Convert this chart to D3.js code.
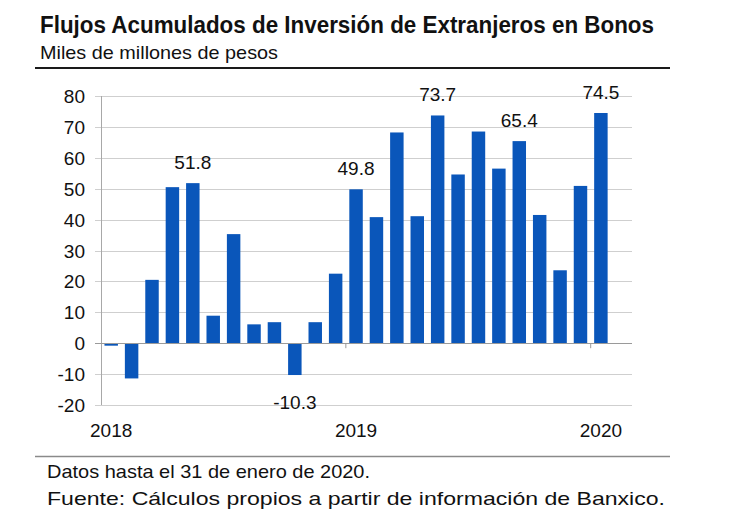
<!DOCTYPE html>
<html lang="es">
<head>
    <meta charset="UTF-8">
    <script src="https://d3js.org/d3.v7.min.js"></script>
    <title>Flujos Acumulados</title>
    <style>
        body { margin: 0; background: #fff; }
        text { font-family: "Liberation Sans", Arial, sans-serif; fill: #111; }
        .grid line { stroke: #cfcfcf; stroke-width: 1px; }
    </style>
</head>
<body>
    <div id="chart"></div>
<script>
    // monthly data, Jan 2018 - Jan 2020 (last slot left empty)
    var months = ["2018-01","2018-02","2018-03","2018-04","2018-05","2018-06","2018-07","2018-08","2018-09","2018-10","2018-11","2018-12",
                  "2019-01","2019-02","2019-03","2019-04","2019-05","2019-06","2019-07","2019-08","2019-09","2019-10","2019-11","2019-12",
                  "2020-01","2020-02"];
    var values = [-0.8, -11.4, 20.5, 50.5, 51.8, 8.9, 35.3, 6.1, 6.8, -10.3, 6.8, 22.5,
                  49.8, 40.8, 68.2, 41.1, 73.7, 54.6, 68.5, 56.5, 65.4, 41.5, 23.6, 50.9,
                  74.5, null];
    var labelled = ["2018-05", "2018-10", "2019-01", "2019-05", "2019-09", "2020-01"];
    var yearLabels = [["2018-01", "2018"], ["2019-01", "2019"], ["2020-01", "2020"]];
    var yTicks = [-20, -10, 0, 10, 20, 30, 40, 50, 60, 70, 80];

    var W = 745, H = 520;
    var svg = d3.select("#chart").append("svg").attr("width", W).attr("height", H);

    // titles
    svg.append("text").attr("x", 40).attr("y", 33)
        .attr("font-size", 23).attr("font-weight", "bold")
        .attr("textLength", 614).attr("lengthAdjust", "spacingAndGlyphs")
        .text("Flujos Acumulados de Inversión de Extranjeros en Bonos");
    svg.append("text").attr("x", 40).attr("y", 59)
        .attr("font-size", 19)
        .attr("textLength", 238).attr("lengthAdjust", "spacingAndGlyphs")
        .text("Miles de millones de pesos");
    svg.append("line").attr("x1", 35).attr("x2", 670).attr("y1", 68).attr("y2", 68)
        .attr("stroke", "#1a1a1a").attr("stroke-width", 2);

    // scales
    var x = d3.scaleBand().domain(months).range([101, 631.5]).paddingInner(0.34).paddingOuter(0.17);
    var y = d3.scaleLinear().domain([-20, 80]).range([405, 96]);

    // grid
    svg.append("g").attr("class", "grid")
        .selectAll("line").data(yTicks).join("line")
        .attr("x1", 95).attr("x2", 632)
        .attr("y1", function(d){ return Math.round(y(d)) + 0.5; })
        .attr("y2", function(d){ return Math.round(y(d)) + 0.5; });

    // y axis
    svg.append("line").attr("x1", 101.5).attr("x2", 101.5).attr("y1", y(80)).attr("y2", y(-20))
        .attr("stroke", "#a8a8a8");
    svg.append("g").selectAll("text").data(yTicks).join("text")
        .attr("x", 85).attr("y", function(d){ return y(d) + 7; })
        .attr("text-anchor", "end").attr("font-size", 19)
        .text(function(d){ return d; });

    // bars
    svg.append("g").selectAll("rect").data(months.filter(function(m, i){ return values[i] !== null; })).join("rect")
        .attr("x", function(d){ return x(d); })
        .attr("width", x.bandwidth())
        .attr("y", function(d){ var v = values[months.indexOf(d)]; return y(Math.max(0, v)); })
        .attr("height", function(d){ var v = values[months.indexOf(d)]; return Math.abs(y(v) - y(0)); })
        .attr("fill", "#0a56ba");

    // zero line and year ticks
    svg.append("line").attr("x1", 95).attr("x2", 632).attr("y1", Math.round(y(0)) + 0.5).attr("y2", Math.round(y(0)) + 0.5)
        .attr("stroke", "#9a9a9a");
    svg.append("g").selectAll("line").data(["2019-01", "2020-01"]).join("line")
        .attr("x1", function(d){ return x(d) - x.step() * x.paddingInner() / 2; })
        .attr("x2", function(d){ return x(d) - x.step() * x.paddingInner() / 2; })
        .attr("y1", y(0)).attr("y2", y(0) + 5)
        .attr("stroke", "#9a9a9a");

    // value labels
    svg.append("g").selectAll("text").data(labelled).join("text")
        .attr("x", function(d){ return x(d) + x.bandwidth() / 2; })
        .attr("y", function(d){ var v = values[months.indexOf(d)]; return v >= 0 ? y(v) - 14 : y(v) + 34; })
        .attr("text-anchor", "middle").attr("font-size", 19)
        .text(function(d){ return values[months.indexOf(d)].toFixed(1); });

    // year labels
    svg.append("g").selectAll("text").data(yearLabels).join("text")
        .attr("x", function(d){ return x(d[0]) + x.bandwidth() / 2; })
        .attr("y", 437)
        .attr("text-anchor", "middle").attr("font-size", 19)
        .text(function(d){ return d[1]; });

    // footer
    svg.append("line").attr("x1", 35).attr("x2", 670).attr("y1", 456.5).attr("y2", 456.5)
        .attr("stroke", "#8a8a8a").attr("stroke-width", 1.5);
    svg.append("text").attr("x", 47).attr("y", 478).attr("font-size", 18.5)
        .attr("textLength", 323).attr("lengthAdjust", "spacingAndGlyphs")
        .text("Datos hasta el 31 de enero de 2020.");
    svg.append("text").attr("x", 47).attr("y", 505).attr("font-size", 18.5)
        .attr("textLength", 618).attr("lengthAdjust", "spacingAndGlyphs")
        .text("Fuente: Cálculos propios a partir de información de Banxico.");
</script>
</body>
</html>
